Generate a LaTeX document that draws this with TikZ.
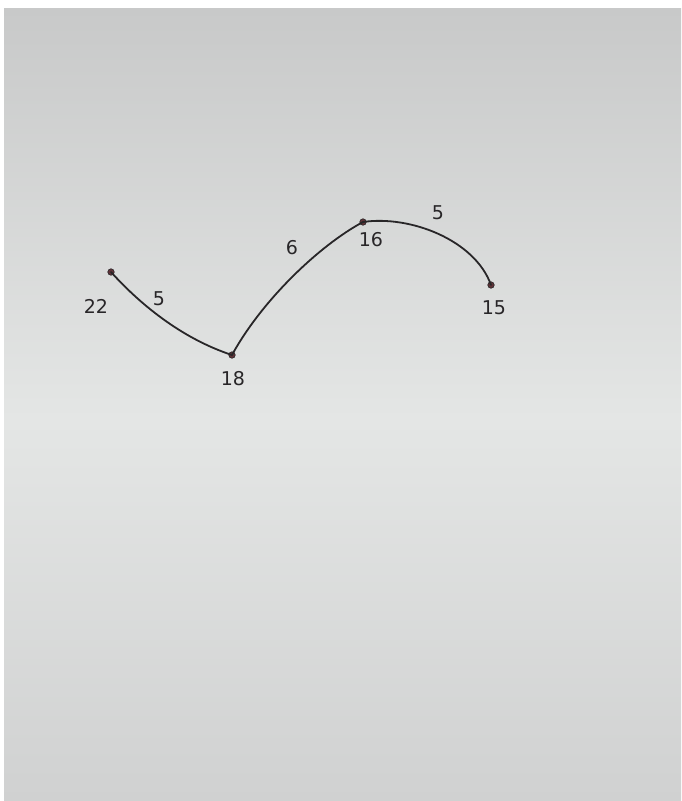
\documentclass[tikz,border=0pt]{standalone}
\usepackage{fontspec}
\setmainfont{DejaVu Sans}
\definecolor{paperTop}{RGB}{200,201,201}
\definecolor{paperMid}{RGB}{228,230,229}
\definecolor{paperBot}{RGB}{208,209,209}
\definecolor{ink}{RGB}{40,38,40}
\definecolor{dotink}{RGB}{95,50,55}
\tikzset{
  pt/.style={circle, fill=dotink, draw=ink, line width=0.6pt, inner sep=0pt, minimum size=6.5pt},
  edge/.style={draw=ink, line width=1.8pt, line cap=round},
  lbl/.style={text=ink, font=\fontsize{19}{19}\selectfont, inner sep=0pt}
}
\begin{document}
\begin{tikzpicture}[x=1pt,y=-1pt]
\useasboundingbox (0,0) rectangle (681,801);
\fill[white] (0,0) rectangle (681,801);
\shade[top color=paperTop, bottom color=paperMid] (4,8) rectangle (681,420);
\shade[top color=paperMid, bottom color=paperBot] (4,420) rectangle (681,801);
% points
\node[pt] (a) at (111,272) {};
\node[pt] (b) at (232,355) {};
\node[pt] (c) at (363,222) {};
\node[pt] (d) at (491,285) {};
% edges
\draw[edge] (a.center) .. controls (138,302) and (180,338) .. (b.center);
\draw[edge] (b.center) .. controls (262,300) and (320,245) .. (c.center);
\draw[edge] (c.center) .. controls (410,215) and (475,240) .. (d.center);
% labels
\node[lbl] (la) at (96,306) {22};
\node[lbl] (lb) at (233,379) {18};
\node[lbl] (lc) at (371,240) {16};
\node[lbl] (ld) at (494,308) {15};
\node[lbl] (lab) at (159,299) {5};
\node[lbl] (lbc) at (292,248) {6};
\node[lbl] (lcd) at (438,213) {5};
\end{tikzpicture}
\end{document}
